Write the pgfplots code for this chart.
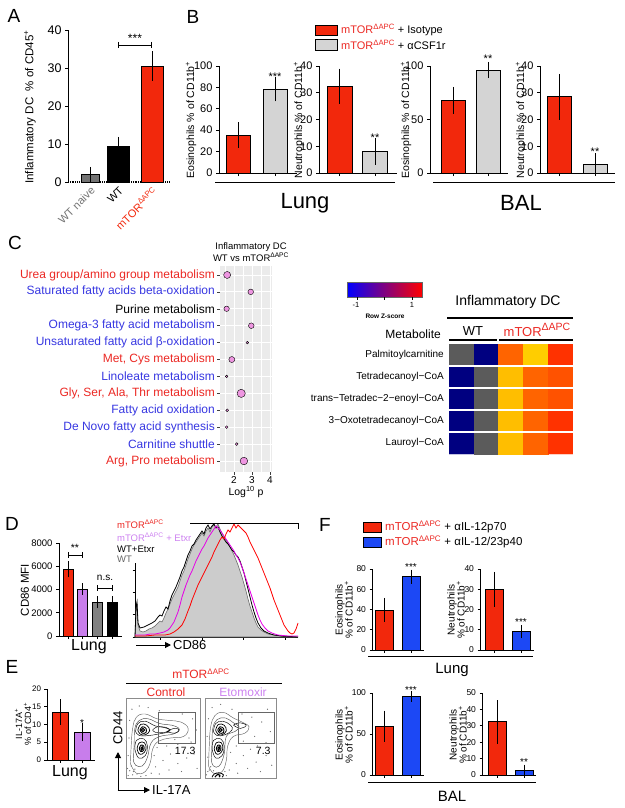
\documentclass[border=0pt]{standalone}
\usepackage{fontspec}
\setmainfont{Liberation Sans}
\usepackage{pgfplots}
\pgfplotsset{compat=1.18}
\usetikzlibrary{arrows.meta}

\definecolor{gpred}{RGB}{242,40,12}
\definecolor{gpgray}{RGB}{212,212,212}
\definecolor{gpblue}{RGB}{28,72,245}
\definecolor{gppurp}{RGB}{200,125,235}
\definecolor{txtred}{RGB}{235,40,35}
\definecolor{txtblue}{RGB}{55,55,225}
\definecolor{bubble}{RGB}{238,150,225}
\definecolor{cbblue}{RGB}{0,0,255}
\definecolor{lav}{RGB}{205,130,240}
\definecolor{hmag}{RGB}{230,0,230}

\newcommand\fs[1]{\fontsize{#1}{#1}\selectfont}
\newcommand\mtor{mTOR\textsuperscript{ΔAPC}}

\pgfplotsset{
  gp/.style={scale only axis, anchor=south west, axis lines*=left, tick align=outside,
    major tick length=3pt, tick style={black, line width=0.7pt},
    axis line style={line width=0.8pt, black}, clip=false,
    /pgf/number format/assume math mode=true,
    /pgf/number format/set thousands separator={},
    xticklabels={}},
  gpb/.style={ybar, bar shift=0pt, draw=black, line width=0.8pt,
    error bars/y dir=both, error bars/y explicit,
    error bars/error bar style={line width=0.8pt, black, solid},
    error bars/error mark options={mark size=#1, line width=0.8pt, black, solid}},
  gpb/.default=4pt,
  ctr/.style={black, line width=0.45pt, smooth, tension=0.7, mark=none},
}

\begin{document}
\begin{tikzpicture}[x=1pt,y=-1pt]
\useasboundingbox (0,0) rectangle (624,808);

% ---------------- Panel A ----------------
\begin{axis}[gp, at={(68pt,-182pt)}, width=102pt, height=152pt,
  xmin=68, xmax=170, ymin=0, ymax=40, ytick={0,10,20,30,40},
  xtick={90,118.5,152},
  xticklabels={{\color{black!55}WT naive}, WT, {\color{gpred}\mtor}},
  xtick style={draw=none},
  xticklabel style={rotate=45, anchor=north east, font=\fs{11}, inner sep=0.5pt},
  yticklabel style={font=\fs{12.5}},
  x axis line style={densely dotted, line width=1.3pt}]
\addplot[gpb=4.5pt, fill=black!55, bar width=18pt] coordinates {(90,2) +- (0,0.8)};
\addplot[gpb=4.5pt, fill=black, bar width=22pt] coordinates {(118.5,9.5) +- (0,1.2)};
\addplot[gpb=4.5pt, fill=gpred, bar width=22pt] coordinates {(152,30.5) +- (0,2.7)};
\end{axis}
\node[font=\fs{19}] at (14,16) {A};
\node[rotate=90, font=\fs{11.5}] at (30,107) {Inflammatory DC\ \ \% of CD45\textsuperscript{+}};
\draw[line width=0.8pt] (118,42)--(118,48) (118,45)--(151,45) (151,42)--(151,48);
\node[font=\fs{12}] at (135,38) {***};

% ---------------- Panel B ----------------
\node[font=\fs{19}] at (193,17) {B};
\filldraw[fill=gpred, draw=black, line width=0.7pt] (315,25) rectangle (337,35);
\filldraw[fill=gpgray, draw=black, line width=0.7pt] (315,39.5) rectangle (337,50);
\node[anchor=west, font=\fs{11}, inner sep=0pt] at (341,30) {{\color{txtred}\mtor} + Isotype};
\node[anchor=west, font=\fs{11}, inner sep=0pt] at (341,45) {{\color{txtred}\mtor} + αCSF1r};

\begin{axis}[gp, at={(219pt,-173pt)}, width=78pt, height=107pt,
  xmin=219, xmax=297, ymin=0, ymax=100, ytick={0,20,40,60,80,100}, xtick={238,275},
  yticklabel style={font=\fs{11}}]
\addplot[gpb=6pt, fill=gpred, bar width=24pt] coordinates {(238,35.5) +- (0,6.5)};
\addplot[gpb=6pt, fill=gpgray, bar width=24pt] coordinates {(275,78.5) +- (0,6)};
\end{axis}
\begin{axis}[gp, at={(319pt,-173pt)}, width=78pt, height=107pt,
  xmin=319, xmax=397, ymin=0, ymax=40, ytick={0,10,20,30,40}, xtick={339.5,375},
  yticklabel style={font=\fs{11}}]
\addplot[gpb=6pt, fill=gpred, bar width=25pt] coordinates {(339.5,32.5) +- (0,4.3)};
\addplot[gpb=6pt, fill=gpgray, bar width=25pt] coordinates {(375,8) +- (0,2.7)};
\end{axis}
\begin{axis}[gp, at={(430pt,-173pt)}, width=78pt, height=107pt,
  xmin=430, xmax=508, ymin=0, ymax=100, ytick={0,50,100}, xtick={453,488},
  yticklabel style={font=\fs{11}}]
\addplot[gpb=6pt, fill=gpred, bar width=24pt] coordinates {(453,68) +- (0,7)};
\addplot[gpb=6pt, fill=gpgray, bar width=24pt] coordinates {(488,96.3) +- (0,2)};
\end{axis}
\begin{axis}[gp, at={(540pt,-173pt)}, width=75pt, height=107pt,
  xmin=540, xmax=615, ymin=0, ymax=40, ytick={0,10,20,30,40}, xtick={559,595},
  yticklabel style={font=\fs{11}}]
\addplot[gpb=6pt, fill=gpred, bar width=24pt] coordinates {(559,28.5) +- (0,6.3)};
\addplot[gpb=6pt, fill=gpgray, bar width=24pt] coordinates {(595,3.3) +- (0,1.8)};
\end{axis}
\node[rotate=90, font=\fs{10.5}] at (191,120) {Eosinophils \% of CD11b\textsuperscript{+}};
\node[rotate=90, font=\fs{10.5}] at (299,120) {Neutrophils \% of CD11b\textsuperscript{+}};
\node[rotate=90, font=\fs{10.5}] at (406,120) {Eosinophils \% of CD11b\textsuperscript{+}};
\node[rotate=90, font=\fs{10.5}] at (521,120) {Neutrophils \% of CD11b\textsuperscript{+}};
\node[font=\fs{11}] at (275,77) {***};
\node[font=\fs{11}] at (375,138) {**};
\node[font=\fs{11}] at (488,59) {**};
\node[font=\fs{11}] at (595,152) {**};
\draw[line width=0.9pt] (215,182)--(395,182) (433,182)--(615,182);
\node[font=\fs{22}] at (305,203) {Lung};
\node[font=\fs{22}] at (521,203) {BAL};

% ---------------- Panel C (dot plot) ----------------
\node[font=\fs{19}] at (15,243) {C};
\node[font=\fs{9.5}, align=center, inner sep=0pt] at (251,252) {Inflammatory DC\\[1pt]WT vs \mtor};
\begin{axis}[scale only axis, anchor=south west, at={(220pt,-472pt)}, width=52pt, height=206pt,
  xmin=1.222, xmax=4.111, ymin=0.47, ymax=12.65, y dir=reverse,
  axis background/.style={fill=black!8},
  axis line style={draw=none},
  xtick={2,3,4}, minor xtick={1.5,2.5,3.5}, ytick={1,...,12},
  grid=both, major grid style={white, line width=0.9pt}, minor grid style={white, line width=0.45pt},
  tick align=outside, major tick length=3pt, minor tick length=0pt,
  tick style={black!75, line width=0.5pt},
  xtick pos=left, ytick pos=left,
  xticklabel style={font=\fs{10}, inner sep=1.5pt},
  yticklabel style={font=\fs{12}, inner sep=2pt},
  /pgf/number format/assume math mode=true,
  xlabel={Log\textsuperscript{10} p}, xlabel style={font=\fs{10.5}, inner sep=1pt},
  yticklabels={{\color{txtred}Urea group/amino group metabolism},
    {\color{txtblue}Saturated fatty acids beta-oxidation},
    {\color{black}Purine metabolism},
    {\color{txtblue}Omega-3 fatty acid metabolism},
    {\color{txtblue}Unsaturated fatty acid β-oxidation},
    {\color{txtred}Met, Cys metabolism},
    {\color{txtblue}Linoleate metabolism},
    {\color{txtred}Gly, Ser, Ala, Thr metabolism},
    {\color{txtblue}Fatty acid oxidation},
    {\color{txtblue}De Novo fatty acid synthesis},
    {\color{txtblue}Carnitine shuttle},
    {\color{txtred}Arg, Pro metabolism}}]
\addplot[scatter, only marks, mark=*, point meta=explicit,
  scatter/use mapped color={draw=none, fill=bubble},
  visualization depends on={\thisrow{s}\as\ps},
  scatter/@pre marker code/.append style={/tikz/mark size=\ps}]
  table[x=x, y=y, meta=s] {
x y s
1.62 1 3.5
2.93 2 2.8
1.59 3 2.7
2.96 4 2.8
2.74 5 1.3
1.88 6 3.0
1.59 7 1.3
2.40 8 4.1
1.62 9 1.4
1.59 10 1.4
2.15 11 1.4
2.55 12 3.8
};
\end{axis}

% ---------------- Heatmap ----------------
\shade[left color=cbblue, middle color=yellow, right color=red] (347,282) rectangle (422,297);
\draw[black!60, line width=0.4pt] (347,282) rectangle (422,297);
\draw[line width=0.5pt] (357,297)--(357,300) (384.5,297)--(384.5,300) (412,297)--(412,300);
\node[font=\fs{7.5}] at (356,305) {-1};
\node[font=\fs{7.5}] at (412,305) {1};
\node[font=\bfseries\fs{6.5}] at (385,316) {Row Z-score};

\node[font=\fs{14}] at (508,302) {Inflammatory DC};
\draw[line width=1.3pt] (447,318)--(573,318);
\node[anchor=east, font=\fs{12}, inner sep=0pt] at (441,334) {Metabolite};
\node[font=\fs{13}] at (473,331) {WT};
\node[font=\fs{13}, text=txtred] at (537,330) {mTOR\raisebox{0.45em}{\fs{10.5}ΔAPC}};
\draw[line width=1.2pt] (449,340)--(497,340) (499,340)--(573,340);

\begin{axis}[scale only axis, anchor=south west, at={(449pt,-454pt)}, width=124pt, height=110pt,
  xmin=-0.5, xmax=4.5, ymin=-0.5, ymax=4.5, y dir=reverse, axis line style={draw=none},
  xtick=\empty, ytick={0,...,4}, major tick length=0pt, minor tick length=0pt,
  minor xtick={0.5,1.5,2.5,3.5}, minor ytick={0.5,1.5,2.5,3.5},
  grid=minor, minor grid style={white, line width=1.2pt}, axis on top,
  yticklabel style={font=\fs{10}, inner sep=1pt, xshift=-4pt},
  yticklabels={Palmitoylcarnitine, Tetradecanoyl−CoA, trans−Tetradec−2−enoyl−CoA, 3−Oxotetradecanoyl−CoA, Lauroyl−CoA},
  colormap={hm}{rgb255=(91,91,91) rgb255=(0,0,128) rgb255=(255,100,0) rgb255=(255,205,0) rgb255=(255,50,0) rgb255=(255,82,0) rgb255=(255,190,0)},
  colormap access=direct]
\addplot[matrix plot*, mesh/cols=5, point meta=explicit] coordinates {
(0,0) [0] (1,0) [1] (2,0) [2] (3,0) [3] (4,0) [4]

(0,1) [1] (1,1) [0] (2,1) [6] (3,1) [2] (4,1) [5]

(0,2) [1] (1,2) [0] (2,2) [6] (3,2) [2] (4,2) [5]

(0,3) [1] (1,3) [0] (2,3) [6] (3,3) [2] (4,3) [4]

(0,4) [1] (1,4) [0] (2,4) [6] (3,4) [2] (4,4) [4]
};
\end{axis}

% ---------------- Panel D ----------------
\node[font=\fs{19}] at (12,524) {D};
\begin{axis}[gp, at={(59pt,-636pt)}, width=63pt, height=93pt,
  xmin=59, xmax=122, ymin=0, ymax=8000, ytick={0,2000,4000,6000,8000},
  xtick={68,82.5,97.5,112}, yticklabel style={font=\fs{9.5}}]
\addplot[gpb=3.5pt, fill=gpred, bar width=10pt] coordinates {(68,5750) +- (0,400)};
\addplot[gpb=3.5pt, fill=gppurp, bar width=10pt] coordinates {(82.5,4050) +- (0,180)};
\addplot[gpb=3.5pt, fill=black!50, bar width=10pt] coordinates {(97.5,2900) +- (0,200)};
\addplot[gpb=3.5pt, fill=black, bar width=10pt] coordinates {(112,2900) +- (0,230)};
\end{axis}
\node[rotate=90, font=\fs{11.5}] at (25,590) {CD86 MFI};
\draw[line width=0.8pt] (68,552)--(68,558) (68,555)--(82,555) (82,552)--(82,558);
\node[font=\fs{10.5}] at (75,548) {**};
\draw[line width=0.8pt] (97,585)--(97,591) (97,588)--(112,588) (112,585)--(112,591);
\node[font=\fs{10}] at (105,578) {n.s.};
\node[font=\fs{16}] at (89,647) {Lung};

\begin{axis}[gp, at={(135pt,-637pt)}, width=163pt, height=74pt,
  xmin=135, xmax=298, ymin=0, ymax=74, ytick={0,23,45,67}, yticklabels={},
  xtick={160,202,243,285}, major tick length=2.5pt]
\addplot[fill=black!20, draw=black!60, line width=0.6pt] coordinates {
(135,0)(136,28)(137,33)(138,12)(140,6)(143,5)(146,6)(149,8)(152,9)(155,11)(158,14)(160,16)
(162,15)(164,19)(166,24)(168,28)(170,33)(172,38)(174,42)(176,46)(178,50)(180,56)(182,62)
(184,66)(186,72)(188,78)(190,83)(192,88)(194,92)(196,95)(198,98)(200,101)(202,104)(204,101)
(206,106)(208,109)(210,105)(212,110)(214,112)(216,110)(218,113)(220,108)(222,104)(224,100)
(226,97)(228,94)(230,90)(232,86)(234,82)(236,77)(238,72)(240,66)(242,60)(244,53)(246,46)
(248,38)(250,31)(252,25)(254,19)(256,14)(258,10)(261,7)(264,5)(268,3)(274,2)(282,1)(298,0)}
\closedcycle;
\addplot[black, line width=0.8pt] coordinates {
(135,0)(136,30)(137,35)(138,14)(140,9)(144,10)(148,12)(152,14)(155,16)(158,20)(160,22)
(162,21)(164,26)(166,30)(168,28)(170,36)(172,42)(174,46)(176,50)(178,55)(180,60)(182,66)
(184,70)(186,76)(188,82)(190,86)(192,91)(194,93)(196,97)(198,100)(200,103)(202,106)
(204,103)(206,109)(208,112)(210,108)(212,111)(214,113)(216,109)(218,110)(220,105)(222,101)
(224,98)(226,95)(228,93)(230,90)(232,87)(234,85)(236,82)(238,80)(240,76)(242,70)(244,64)
(246,56)(248,48)(250,40)(252,32)(254,25)(256,19)(258,14)(261,9)(264,6)(268,4)(274,2)(282,1)(298,0)};
\addplot[hmag, line width=0.8pt] coordinates {
(135,2)(140,2)(145,2)(150,3)(155,3)(160,4)(164,5)(168,7)(170,9)(172,12)(174,15)(176,20)
(178,25)(180,32)(182,40)(184,46)(186,52)(188,57)(190,62)(192,66)(194,71)(196,76)(198,80)
(200,84)(202,88)(204,91)(206,95)(208,99)(210,102)(212,105)(214,108)(216,111)(218,109)
(220,107)(222,104)(224,101)(226,98)(228,95)(230,92)(232,89)(234,86)(236,82)(238,79)
(240,75)(242,70)(244,64)(246,58)(248,52)(250,46)(252,40)(254,34)(256,28)(258,22)(260,17)
(262,13)(265,9)(268,6)(272,4)(278,2)(288,1)(298,1)};
\addplot[red, line width=0.8pt] coordinates {
(135,1)(145,1)(155,2)(165,2)(170,3)(174,5)(178,8)(182,12)(185,18)(188,26)(190,31)(192,37)
(194,42)(196,47)(198,52)(200,56)(202,60)(204,64)(206,68)(208,72)(210,76)(212,80)(214,85)
(216,89)(218,93)(220,97)(222,100)(224,98)(226,103)(228,107)(230,105)(232,109)(234,113)
(236,109)(238,112)(240,110)(242,108)(244,106)(246,104)(248,100)(250,95)(252,91)(254,87)
(256,83)(258,79)(260,74)(262,69)(264,64)(266,59)(268,54)(270,49)(272,43)(274,37)(276,32)
(278,27)(280,22)(282,17)(284,12)(286,9)(288,6)(290,4)(292,3)(294,4)(296,8)(298,14)};
\end{axis}
\draw[line width=0.8pt] (190,523)--(298,523)--(298,529);
\node[anchor=west, font=\fs{9.5}, inner sep=0pt, text=txtred] at (117,524) {\mtor};
\node[anchor=west, font=\fs{9.5}, inner sep=0pt, text=lav] at (117,537) {\mtor\ + Etxr};
\node[anchor=west, font=\fs{9.5}, inner sep=0pt] at (117,549) {WT+Etxr};
\node[anchor=west, font=\fs{9.5}, inner sep=0pt, text=black!60] at (117,559) {WT};
\draw[-{Triangle[length=6pt,width=6pt]}, line width=1pt] (136,645)--(171,645);
\node[anchor=west, font=\fs{13}, inner sep=1pt] at (172,645) {CD86};

% ---------------- Panel E ----------------
\node[font=\fs{19}] at (12,667) {E};
\begin{axis}[gp, at={(47pt,-760pt)}, width=48pt, height=71pt,
  xmin=47, xmax=95, ymin=0, ymax=20, ytick={0,5,10,15,20},
  xtick={60,82}, major tick length=2.5pt, yticklabel style={font=\fs{8}}]
\addplot[gpb=5pt, fill=gpred, bar width=16pt] coordinates {(60,13.5) +- (0,2.2)};
\addplot[gpb=5pt, fill=gppurp, bar width=16pt] coordinates {(82,7.9) +- (0,1.25)};
\end{axis}
\node[rotate=90, font=\fs{9}, align=center, inner sep=0pt] at (23,724) {IL-17A\textsuperscript{+}\\\% of CD4\textsuperscript{+}};
\node[font=\fs{10}] at (82,723) {*};
\node[font=\fs{16}] at (70,773) {Lung};

\node[font=\fs{12}, text=txtred] at (201,674) {\mtor};
\draw[line width=0.9pt] (126,683)--(282,683);
\node[font=\fs{12}, text=txtred] at (166,692) {Control};
\node[font=\fs{12}, text=lav] at (243,692) {Etomoxir};

\begin{axis}[scale only axis, anchor=south west, at={(126pt,-778pt)}, width=74pt, height=80pt,
  xmin=0, xmax=100, ymin=0, ymax=100, ticks=none, axis line style={black!45, line width=0.5pt}]
\addplot[only marks, mark=*, mark size=0.35pt, black!55] coordinates {
(3,3)(5,9)(9,4)(12,11)(3,28)(4,50)(5,72)(8,86)(18,90)(30,88)(45,84)(60,82)(76,80)(90,74)
(95,60)(88,45)(80,38)(70,42)(60,30)(50,22)(40,14)(34,6)(45,5)(58,10)(70,18)(82,25)(92,30)
(96,12)(75,8)(20,2)(27,3)(38,28)(42,38)(55,40)(66,48)(85,50)(7,15)(10,8)(15,5)(2,12)};
\addplot[ctr, black!60] coordinates {(6,18)(7,40)(9,62)(14,76)(26,80)(42,74)(58,72)(74,70)(84,62)(78,52)(60,50)(44,46)(36,36)(33,20)(26,8)(14,6)(6,18)};
\addplot[ctr, black!70] coordinates {(10,22)(11,42)(12,62)(18,72)(30,74)(46,68)(62,66)(72,61)(64,55)(46,52)(34,44)(29,26)(22,15)(13,16)(10,22)};
\addplot[ctr] coordinates {(13,58)(16,68)(26,71)(40,65)(55,63)(58,58)(44,55)(30,53)(18,53)(13,58)};
\addplot[ctr] coordinates {(12,36)(14,47)(24,49)(29,40)(26,28)(17,25)(12,36)};
\addplot[ctr] coordinates {(36,60)(42,64)(52,63)(60,60)(52,57)(40,57)(36,60)};
\addplot[ctr] coordinates {(55,58)(65,62)(72,60)(66,56)(55,58)};
\addplot[ctr, line width=0.7pt] coordinates {(16,60)(20,67)(28,66)(32,59)(26,54)(19,55)(16,60)};
\addplot[ctr, line width=0.7pt] coordinates {(15,37)(18,44)(25,44)(27,36)(22,30)(17,31)(15,37)};
\addplot[ctr, line width=0.9pt] coordinates {(19,60)(22,64)(27,62)(27,57)(22,56)(19,60)};
\addplot[ctr, line width=0.9pt] coordinates {(18,37)(20,41)(24,40)(24,35)(20,33)(18,37)};
\addplot[ctr, line width=1.1pt] coordinates {(21,60)(23,62)(25,60)(23,58)(21,60)};
\addplot[ctr, line width=1.1pt] coordinates {(20,37)(22,39)(23,37)(21,35)(20,37)};
\addplot[black!60, line width=0.5pt] coordinates {(43,44)(93,44)(93,82.5)(43,82.5)(43,44)};
\node[font=\fs{10.5}] at (axis cs:80,34) {17.3};
\end{axis}

\begin{axis}[scale only axis, anchor=south west, at={(205pt,-778pt)}, width=71pt, height=80pt,
  xmin=0, xmax=100, ymin=0, ymax=100, ticks=none, axis line style={black!45, line width=0.5pt}]
\addplot[only marks, mark=*, mark size=0.35pt, black!55] coordinates {
(2,4)(6,10)(4,26)(3,52)(5,74)(10,88)(22,92)(38,86)(52,80)(66,76)(80,70)(92,58)(86,44)(74,40)
(64,36)(54,28)(44,18)(34,10)(46,6)(60,12)(72,20)(86,28)(94,16)(78,8)(30,3)(36,32)(44,40)
(54,46)(70,52)(88,86)(8,14)(4,8)(12,9)(28,8)};
\addplot[ctr, black!60] coordinates {(5,15)(6,40)(8,64)(14,78)(26,82)(40,75)(52,70)(62,64)(56,56)(40,52)(32,40)(30,22)(24,8)(12,6)(5,15)};
\addplot[ctr, black!70] coordinates {(9,22)(10,44)(11,62)(17,73)(29,75)(40,69)(48,64)(42,58)(30,52)(27,30)(20,15)(12,15)(9,22)};
\addplot[ctr] coordinates {(12,58)(15,68)(25,71)(36,66)(38,60)(28,54)(17,53)(12,58)};
\addplot[ctr] coordinates {(10,36)(12,47)(22,49)(27,40)(24,28)(15,25)(10,36)};
\addplot[ctr] coordinates {(40,66)(48,69)(58,66)(50,62)(40,66)};
\addplot[ctr, line width=0.7pt] coordinates {(15,60)(19,67)(27,66)(30,59)(24,54)(18,55)(15,60)};
\addplot[ctr, line width=0.7pt] coordinates {(13,37)(16,44)(23,44)(25,36)(20,30)(15,31)(13,37)};
\addplot[ctr, line width=0.9pt] coordinates {(18,60)(21,64)(26,62)(26,57)(21,56)(18,60)};
\addplot[ctr, line width=0.9pt] coordinates {(16,37)(18,41)(22,40)(22,35)(18,33)(16,37)};
\addplot[ctr, line width=1.1pt] coordinates {(20,60)(22,62)(24,60)(22,58)(20,60)};
\addplot[ctr, line width=1.1pt] coordinates {(18,37)(20,39)(21,37)(19,35)(18,37)};
\addplot[ctr, line width=0.8pt] coordinates {(10,1)(13,5)(20,6.5)(26,4)(24,1)};
\addplot[ctr, line width=1.1pt] coordinates {(14,1)(17,4)(21,3.5)(20,1)};
\addplot[black!60, line width=0.5pt] coordinates {(46.5,44)(97,44)(97,82.5)(46.5,82.5)(46.5,44)};
\node[font=\fs{10.5}] at (axis cs:82,34) {7.3};
\end{axis}
\draw[-{Triangle[length=6pt,width=6pt]}, line width=1pt] (118,790)--(118,752);
\draw[-{Triangle[length=6pt,width=6pt]}, line width=1pt] (117.5,790)--(150,790);
\node[rotate=90, font=\fs{13}] at (118,728) {CD44};
\node[anchor=west, font=\fs{13}, inner sep=1pt] at (151,790) {IL-17A};

% ---------------- Panel F ----------------
\node[font=\fs{19}] at (325,525) {F};
\filldraw[fill=gpred, draw=black, line width=0.7pt] (363,522) rectangle (381,532);
\filldraw[fill=gpblue, draw=black, line width=0.7pt] (363,537) rectangle (381,547);
\node[anchor=west, font=\fs{11.5}, inner sep=0pt] at (385,527) {{\color{txtred}\mtor} + αIL-12p70};
\node[anchor=west, font=\fs{11.5}, inner sep=0pt] at (385,542) {{\color{txtred}\mtor} + αIL-12/23p40};

\begin{axis}[gp, at={(372pt,-650pt)}, width=52pt, height=81pt,
  xmin=372, xmax=424, ymin=0, ymax=80, ytick={0,20,40,60,80}, xtick={384,411},
  major tick length=2.5pt, yticklabel style={font=\fs{8.5}}]
\addplot[gpb=4.5pt, fill=gpred, bar width=18pt] coordinates {(384,39.5) +- (0,7.5)};
\addplot[gpb=4.5pt, fill=gpblue, bar width=18pt] coordinates {(411,72.5) +- (0,2.5)};
\end{axis}
\begin{axis}[gp, at={(480pt,-650pt)}, width=54pt, height=81pt,
  xmin=480, xmax=534, ymin=0, ymax=40, ytick={0,10,20,30,40}, xtick={494,521},
  major tick length=2.5pt, yticklabel style={font=\fs{8.5}}]
\addplot[gpb=4.5pt, fill=gpred, bar width=18pt] coordinates {(494,30) +- (0,6.3)};
\addplot[gpb=4.5pt, fill=gpblue, bar width=18pt] coordinates {(521,9) +- (0,0.9)};
\end{axis}
\begin{axis}[gp, at={(372pt,-775pt)}, width=52pt, height=82pt,
  xmin=372, xmax=424, ymin=0, ymax=100, ytick={0,50,100}, xtick={384,411},
  major tick length=2.5pt, yticklabel style={font=\fs{8.5}}]
\addplot[gpb=4.5pt, fill=gpred, bar width=18pt] coordinates {(384,59.5) +- (0,13.5)};
\addplot[gpb=4.5pt, fill=gpblue, bar width=18pt] coordinates {(411,95.7) +- (0,0.8)};
\end{axis}
\begin{axis}[gp, at={(482pt,-775pt)}, width=54pt, height=82pt,
  xmin=482, xmax=536, ymin=0, ymax=50, ytick={0,10,20,30,40,50}, xtick={497.5,524},
  major tick length=2.5pt, yticklabel style={font=\fs{8.5}}]
\addplot[gpb=4.5pt, fill=gpred, bar width=18pt] coordinates {(497.5,32.4) +- (0,10.5)};
\addplot[gpb=4.5pt, fill=gpblue, bar width=18pt] coordinates {(524,3) +- (0,0.6)};
\end{axis}
\node[rotate=90, font=\fs{10}, align=center, inner sep=0pt] at (344,610) {Eosinophils\\\% of CD11b\textsuperscript{+}};
\node[rotate=90, font=\fs{10}, align=center, inner sep=0pt] at (456,610) {Neutrophils\\\% of CD11b\textsuperscript{+}};
\node[rotate=90, font=\fs{10}, align=center, inner sep=0pt] at (344,735) {Eosinophils\\\% of CD11b\textsuperscript{+}};
\node[rotate=90, font=\fs{10}, align=center, inner sep=0pt] at (458,735) {Neutrophils\\\% of CD11b\textsuperscript{+}};
\node[font=\fs{10}] at (411,567) {***};
\node[font=\fs{10}] at (521,622) {***};
\node[font=\fs{10}] at (411,690) {***};
\node[font=\fs{10}] at (524,762) {**};
\draw[line width=0.9pt] (368,656)--(533,656) (368,782)--(536,782);
\node[font=\fs{15}] at (452,670) {Lung};
\node[font=\fs{15}] at (452,796) {BAL};
\end{tikzpicture}
\end{document}
